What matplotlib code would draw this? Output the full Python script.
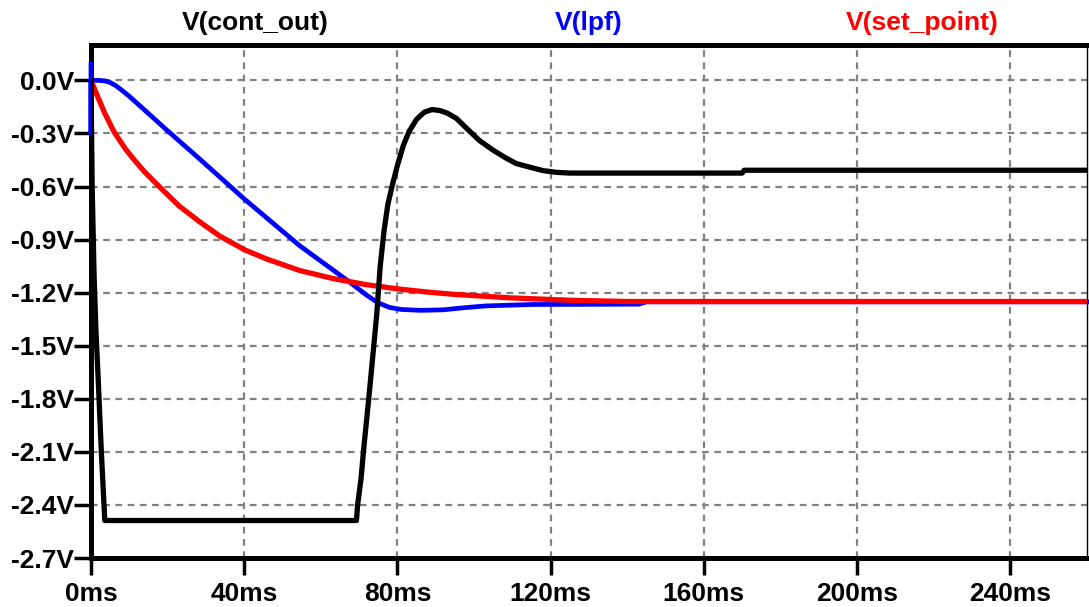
import matplotlib.pyplot as plt

# transient traces, time in ms, voltage in V
t_cont = [0, 0.3, 0.8, 1.3, 1.9, 2.7, 3.6, 69.3, 69.6, 70.5, 71.2, 72.5, 73.6,
          74.6, 75.5, 76.5, 77.5, 78.8, 80.0, 81.5, 83, 85, 87, 89, 91, 93,
          95.4, 98, 101.4, 105, 108.4, 111, 114.4, 118, 121.5, 125, 170, 170.5, 260]
v_cont = [0.0, -0.6, -1.1, -1.42, -1.7, -2.1, -2.488, -2.488, -2.40, -2.25, -2.08,
          -1.80, -1.55, -1.32, -1.05, -0.85, -0.70, -0.58, -0.48, -0.37, -0.29,
          -0.22, -0.18, -0.165, -0.17, -0.185, -0.215, -0.27, -0.34, -0.395,
          -0.44, -0.47, -0.49, -0.51, -0.52, -0.524, -0.524, -0.508, -0.508]

t_lpf = [0, 0, 0, 2, 3.6, 5, 6.5, 8, 10, 14.1, 20, 28.4, 40.1, 54.5, 67.5,
         72, 75, 78, 81, 86, 92, 97, 103, 115, 143, 145, 260]
v_lpf = [0.09, -0.3, 0.0, 0.0, -0.003, -0.012, -0.03, -0.055, -0.09, -0.17,
         -0.285, -0.445, -0.672, -0.935, -1.14, -1.215, -1.258, -1.284, -1.295,
         -1.3, -1.297, -1.286, -1.275, -1.267, -1.265, -1.252, -1.252]

t_set = [0, 2, 3.6, 6, 8.9, 11.5, 14.1, 18.5, 23, 28.4, 33.6, 40.1, 45.9, 54.5,
         63.1, 71.9, 80.6, 88, 95, 110, 125, 140, 260]
v_set = [0.0, -0.105, -0.186, -0.29, -0.385, -0.455, -0.52, -0.615, -0.71, -0.80,
         -0.88, -0.958, -1.01, -1.075, -1.12, -1.155, -1.18, -1.197, -1.21, -1.23,
         -1.243, -1.25, -1.25]

x_ticks = [0, 40, 80, 120, 160, 200, 240]
x_labels = [f"{v}ms" for v in x_ticks]
y_ticks = [0.0, -0.3, -0.6, -0.9, -1.2, -1.5, -1.8, -2.1, -2.4, -2.7]
y_labels = [f"{v:.1f}V" for v in y_ticks]

plt.rcParams['font.family'] = ['Liberation Sans', 'DejaVu Sans']

fig = plt.figure(figsize=(10.89, 6.07), dpi=100)
ax = fig.add_axes([91 / 1089, 1 - 558 / 607, 996 / 1089, 513 / 607])

ax.plot(t_lpf, v_lpf, color='#0000ff', lw=3.4, zorder=3, clip_on=False)
ax.plot(t_set, v_set, color='#ff0000', lw=3.8, zorder=4)
ax.plot(t_cont, v_cont, color='black', lw=3.8, zorder=5)

ax.set_xlim(0, 260)
ax.set_ylim(-2.7, 0.2)
ax.set_xticks(x_ticks)
ax.set_xticklabels(x_labels)
ax.set_yticks(y_ticks)
ax.set_yticklabels(y_labels)

ax.grid(True, color='#808080', linestyle=(0, (3, 2.5)), lw=1.6)
ax.tick_params(axis='both', length=12, width=2.5, direction='out',
               labelsize=19, color='black')
ax.tick_params(axis='x', pad=5)
ax.tick_params(axis='y', pad=0)
for lab in ax.get_xticklabels() + ax.get_yticklabels():
    lab.set_fontweight('bold')

for side in ['left', 'bottom', 'top']:
    ax.spines[side].set_linewidth(3.6)
ax.spines['right'].set_linewidth(1.0)

fig.text(255 / 1089, 0.962, 'V(cont_out)', color='black', fontsize=19,
         fontweight='bold', ha='center', va='center')
fig.text(589 / 1089, 0.962, 'V(lpf)', color='#0000ff', fontsize=19,
         fontweight='bold', ha='center', va='center')
fig.text(922 / 1089, 0.962, 'V(set_point)', color='#ff0000', fontsize=19,
         fontweight='bold', ha='center', va='center')

fig.savefig('out.png', dpi=100)
